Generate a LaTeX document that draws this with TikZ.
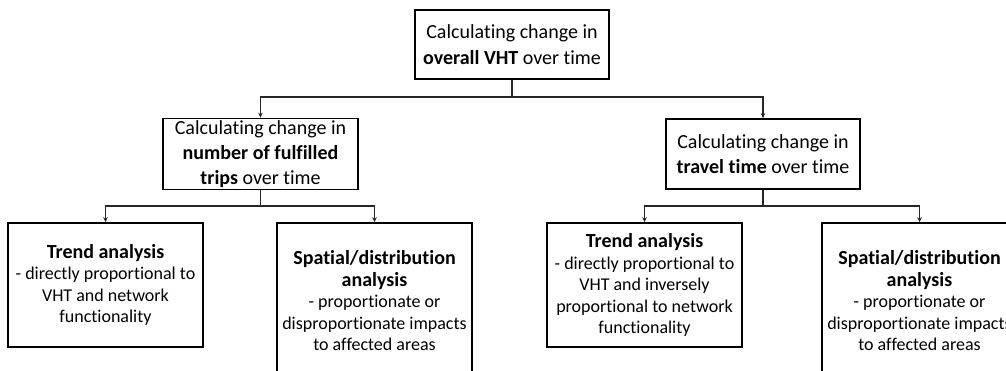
\documentclass[tikz,border=0pt]{standalone}
\usepackage{fontspec}
\setmainfont{Carlito}[Ligatures={NoCommon}]
\usetikzlibrary{arrows.meta}
\begin{document}
\begin{tikzpicture}[x=1pt,y=-1pt,
  box/.style={draw=black, line width=1.6pt, fill=white, align=center, inner sep=2pt,
    font=\fontsize{20}{25}\selectfont},
  leaf/.style={box, minimum width=195pt, font=\fontsize{18}{21.5}\selectfont},
  link/.style={line width=1.3pt, draw=black!85},
  arr/.style={link, -{Stealth[length=5pt,width=4.5pt]}}]
\useasboundingbox (0,0) rectangle (1006,370);
\clip (0,0) rectangle (1006,370);
\newcommand\hd[1]{{\fontsize{20}{24}\selectfont\textbf{#1}}}

% top level
\node[box, minimum width=194pt, minimum height=69pt,
  font=\fontsize{20}{26}\selectfont] (top) at (512,44.5)
  {Calculating change in\\\textbf{overall VHT} over time};

% second level
\node[box, minimum width=195pt, minimum height=70pt] (ml) at (260.5,154)
  {Calculating change in\\\textbf{number of fulfilled}\\\textbf{trips} over time};
\node[box, minimum width=194pt, minimum height=70pt] (mr) at (763,154)
  {Calculating change in\\\textbf{travel time} over time};

% leaves
\node[leaf, minimum height=124pt] (ll) at (105.5,285)
  {\hd{Trend analysis}\\- directly proportional to\\VHT and network\\functionality};
\node[leaf, minimum height=156pt] (lr) at (374.5,301)
  {\hd{Spatial/distribution}\\\hd{analysis}\\- proportionate or\\disproportionate impacts\\to affected areas};
\node[leaf, minimum height=124pt] (rl) at (644.5,285)
  {\hd{Trend analysis}\\- directly proportional to\\VHT and inversely\\proportional to network\\functionality};
\node[leaf, minimum height=156pt] (rr) at (919.5,301)
  {\hd{Spatial/distribution}\\\hd{analysis}\\- proportionate or\\disproportionate impacts\\to affected areas};

% connectors
\coordinate (j0) at (512,97);
\coordinate (j1) at (260.5,206);
\coordinate (j2) at (763,206);
\draw[link] (top.south) -- (j0);
\draw[arr] (j0) -| (ml.north);
\draw[arr] (j0) -| (mr.north);
\draw[link] (ml.south) -- (j1);
\draw[arr] (j1) -| (ll.north);
\draw[arr] (j1) -| (lr.north);
\draw[link] (mr.south) -- (j2);
\draw[arr] (j2) -| (rl.north);
\draw[arr] (j2) -| (rr.north);
\end{tikzpicture}
\end{document}
